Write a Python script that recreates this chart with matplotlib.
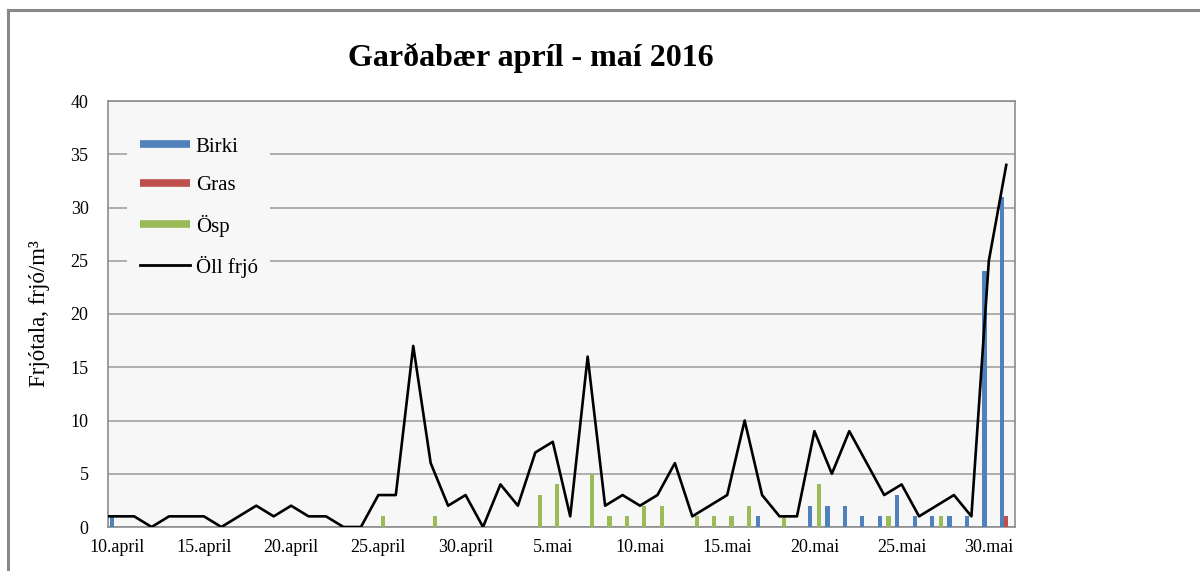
import matplotlib
matplotlib.use("Agg")
import matplotlib.pyplot as plt
from matplotlib.lines import Line2D

plt.rcParams['font.family'] = ['Liberation Serif', 'DejaVu Serif']

# daily counts 10. april - 31. mai 2016
tick_labels = ["10.april", "15.april", "20.april", "25.april", "30.april",
               "5.mai", "10.mai", "15.mai", "20.mai", "25.mai", "30.mai"]

birki = [1, 0, 0, 0, 0, 0, 0, 0, 0, 0, 0, 0, 0, 0, 0, 0, 0, 0, 0, 0, 0,
         0, 0, 0, 0, 0, 0, 0, 0, 0, 0, 0, 0, 0, 0, 0, 0,
         1, 0, 0, 2, 2, 2, 1, 1, 3, 1, 1, 1, 1, 24, 31]
gras = [0, 0, 0, 0, 0, 0, 0, 0, 0, 0, 0, 0, 0, 0, 0, 0, 0, 0, 0, 0, 0,
        0, 0, 0, 0, 0, 0, 0, 0, 0, 0, 0, 0, 0, 0, 0, 0,
        0, 0, 0, 0, 0, 0, 0, 0, 0, 0, 0, 0, 0, 0, 1]
osp = [0, 0, 0, 0, 0, 0, 0, 0, 0, 0, 0, 0, 0, 0, 0, 1, 0, 0, 1, 0, 0,
       0, 0, 0, 3, 4, 0, 5, 1, 1, 2, 2, 0, 1, 1, 1, 2,
       0, 1, 0, 4, 0, 0, 0, 1, 0, 0, 1, 0, 0, 0, 0]
oll = [1, 1, 0, 1, 1, 1, 0, 1, 2, 1, 2, 1, 1, 0, 0, 3, 3, 17, 6, 2, 3,
       0, 4, 2, 7, 8, 1, 16, 2, 3, 2, 3, 6, 1, 2, 3, 10,
       3, 1, 1, 9, 5, 9, 6, 3, 4, 1, 2, 3, 1, 25, 34]
oll_9april = 1  # line enters the chart at this level

c_birki = '#4F81BD'
c_gras = '#C0504D'
c_osp = '#9BBB59'

n = len(oll)
x = list(range(n))
w = 0.24

fig = plt.figure(figsize=(12, 5.71), dpi=100)
ax = fig.add_axes([108 / 1200, 1 - 527 / 571, 907 / 1200, 426 / 571])
ax.set_facecolor('#F7F7F7')

ax.bar([i - 0.25 for i in x], birki, width=w, color=c_birki, zorder=3)
ax.bar(x, gras, width=w, color=c_gras, zorder=3)
ax.bar([i + 0.25 for i in x], osp, width=w, color=c_osp, zorder=3)
ax.plot([-1] + x, [oll_9april] + oll, color='black', lw=1.9, zorder=4)

ax.set_xlim(-0.5, n - 0.5)
ax.set_ylim(0, 40)
ax.set_yticks(range(0, 41, 5))
ax.set_xticks(range(0, n, 5))
ax.set_xticklabels(tick_labels)
ax.tick_params(axis='both', length=0, labelsize=13)
ax.tick_params(axis='y', pad=14)
ax.tick_params(axis='x', pad=9)
ax.grid(axis='y', color='#9A9A9A', lw=1.1, zorder=0)
for s in ax.spines.values():
    s.set_color('#8C8C8C')
    s.set_linewidth(1.2)

handles = [Line2D([], [], color=c_birki, lw=5.5, solid_capstyle='butt'),
           Line2D([], [], color=c_gras, lw=5.5, solid_capstyle='butt'),
           Line2D([], [], color=c_osp, lw=5.5, solid_capstyle='butt'),
           Line2D([], [], color='black', lw=2)]
leg = ax.legend(handles, ["Birki", "Gras", "Ösp", "Öll frjó"],
                loc='upper left', bbox_to_anchor=(0.021, 0.945),
                borderaxespad=0, borderpad=0.6, fontsize=15,
                handlelength=2.4, handletextpad=0.3, labelspacing=0.92,
                frameon=True, facecolor='#F7F7F7', edgecolor='none',
                framealpha=1)
leg.set_zorder(5)

fig.text(531 / 1200, 1 - 58 / 571, "Garðabær apríl - maí 2016",
         ha='center', va='center', fontsize=23, fontweight='bold')
fig.text(40 / 1200, 1 - 314 / 571, "Frjótala, frjó/m³", rotation=90,
         ha='center', va='center', fontsize=16.5)

# outer chart-area frame (top and left edges visible)
fig.add_artist(Line2D([8 / 1200, 8 / 1200], [0, 1 - 10 / 571],
                      transform=fig.transFigure, color='#888888', lw=2.2))
fig.add_artist(Line2D([8 / 1200, 1], [1 - 10 / 571, 1 - 10 / 571],
                      transform=fig.transFigure, color='#888888', lw=2.2))

fig.savefig('out.png', dpi=100)
